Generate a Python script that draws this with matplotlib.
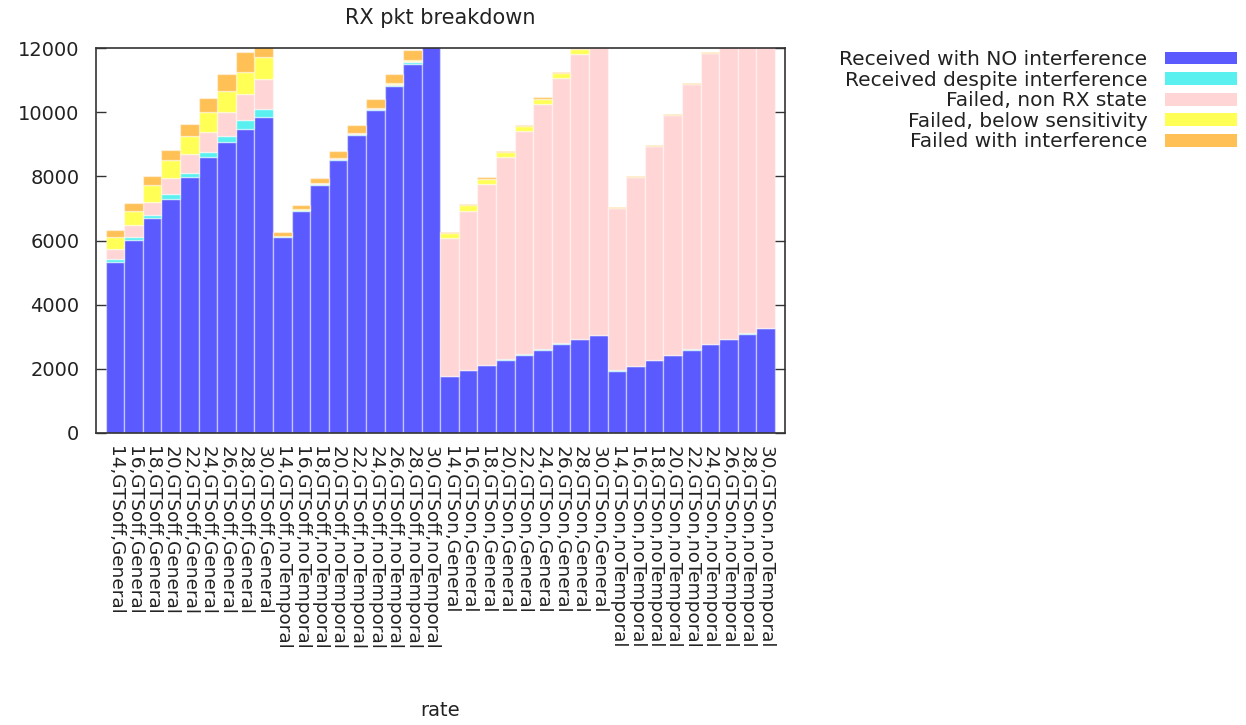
import numpy as np
import matplotlib
matplotlib.use("Agg")
import matplotlib.pyplot as plt

rates = [14, 16, 18, 20, 22, 24, 26, 28, 30]
configs = ["GTSoff,General", "GTSoff,noTemporal", "GTSon,General", "GTSon,noTemporal"]
tick_labels = [f"{r},{c}" for c in configs for r in rates]

# stacked series, one value per bar (4 groups x 9 rates)
rx_clean = [5340, 6020, 6690, 7300, 7970, 8610, 9060, 9490, 9850,
            6110, 6920, 7730, 8520, 9300, 10060, 10810, 11510, 12250,
            1780, 1960, 2110, 2290, 2440, 2600, 2780, 2920, 3050,
            1940, 2090, 2280, 2430, 2600, 2760, 2920, 3100, 3270]
rx_despite = [70, 80, 90, 135, 125, 145, 185, 260, 260,
              20, 25, 25, 30, 30, 35, 35, 40, 40,
              10, 10, 10, 10, 10, 10, 10, 10, 10,
              10, 10, 10, 10, 10, 10, 10, 10, 10]
fail_state = [310, 370, 425, 510, 590, 620, 745, 820, 910,
              15, 20, 25, 25, 30, 35, 45, 60, 70,
              4300, 4960, 5650, 6300, 6950, 7650, 8270, 8870, 9550,
              5070, 5880, 6655, 7480, 8260, 9065, 9900, 10700, 11500]
fail_sens = [380, 450, 520, 570, 570, 630, 675, 685, 700,
             5, 5, 5, 5, 5, 5, 5, 5, 5,
             145, 165, 155, 165, 165, 165, 165, 165, 165,
             0, 0, 0, 0, 0, 0, 0, 0, 0]
fail_intf = [240, 260, 270, 320, 375, 425, 530, 620, 700,
             120, 150, 175, 195, 240, 270, 305, 330, 350,
             40, 40, 40, 40, 40, 40, 40, 40, 40,
             30, 30, 30, 30, 30, 30, 30, 30, 30]

series = [
    ("Received with NO interference", rx_clean, "#5a5aff"),
    ("Received despite interference", rx_despite, "#5af0f0"),
    ("Failed, non RX state", fail_state, "#ffd5d5"),
    ("Failed, below sensitivity", fail_sens, "#ffff55"),
    ("Failed with interference", fail_intf, "#ffc055"),
]

W, H = 1246, 725
fig = plt.figure(figsize=(W / 100, H / 100), dpi=100)
ax = fig.add_axes([96 / W, 1 - 433 / H, (785 - 96) / W, (433 - 48) / H])

x = np.arange(len(tick_labels))
bottom = np.zeros(len(x))
for name, vals, col in series:
    vals = np.array(vals, dtype=float)
    ax.bar(x, vals, width=1.0, bottom=bottom, color=col, label=name,
           edgecolor=(1, 1, 1, 0.45), linewidth=1.0)
    bottom += vals

ax.set_xlim(-1.02, 36.04)
ax.set_ylim(0, 12000)
ax.set_yticks(np.arange(0, 12001, 2000))
ax.tick_params(axis="y", direction="in", length=7.5, width=1, labelsize=14,
               right=True, pad=12, colors="#333333", labelcolor="#222222")
ax.set_xticks(x)
ax.set_xticklabels(tick_labels, rotation=-90, ha="center", va="top", fontsize=13.3)
ax.tick_params(axis="x", length=0, pad=9, labelcolor="#222222")
for s in ax.spines.values():
    s.set_linewidth(1.2)
    s.set_color("#333333")

fig.text((96 + 785) / 2 / W, 1 - 18 / H, "RX pkt breakdown", ha="center", va="center",
         fontsize=15, color="#222222")
ax.set_xlabel("rate", fontsize=14, color="#222222")
ax.xaxis.set_label_coords(0.5, (433 - 710) / 385)
ax.xaxis.label.set_va("center")

leg = ax.legend(loc="upper right", bbox_to_anchor=(1237 / W, 1 - 50 / H),
                bbox_transform=fig.transFigure, frameon=False, markerfirst=False,
                fontsize=14.5, labelspacing=0.08, handlelength=3.6, handleheight=0.6,
                handletextpad=0.85, borderpad=0, borderaxespad=0)
for t in leg.get_texts():
    t.set_color("#222222")
for p in leg.get_patches():
    p.set_edgecolor("none")

fig.savefig("out.png", dpi=100)
